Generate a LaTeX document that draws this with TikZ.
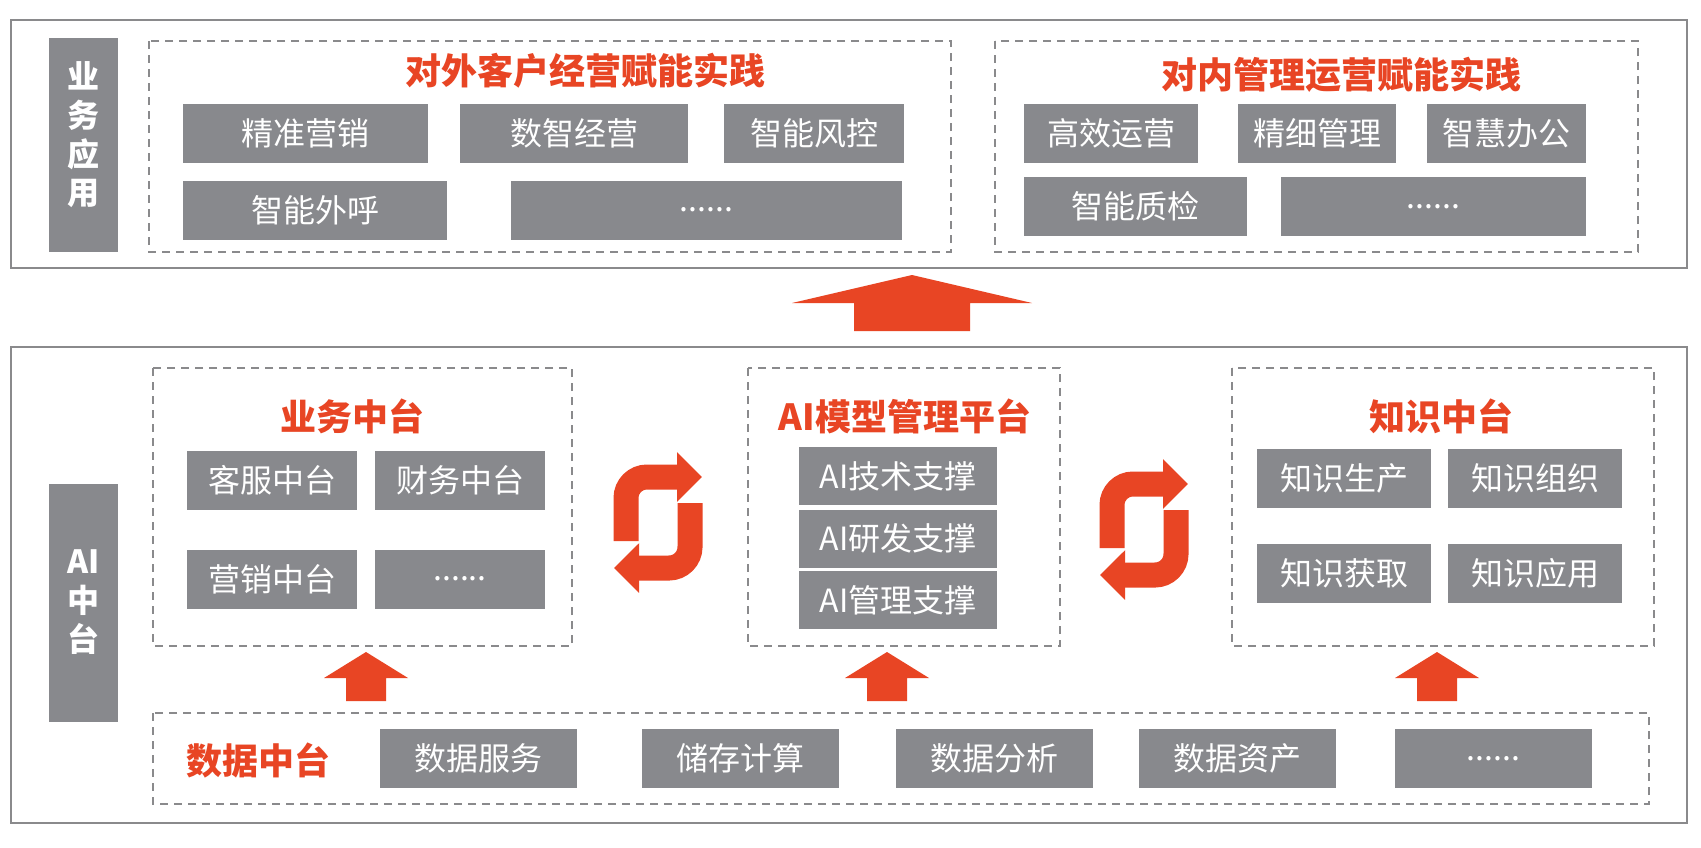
\documentclass[tikz,border=0pt]{standalone}
\usepackage{fontspec}
\setmainfont{Noto Sans CJK SC}
\usepackage{xcolor}
\usetikzlibrary{arrows.meta}

\definecolor{tilegray}{HTML}{88898D}
\definecolor{accent}{HTML}{E84524}
\definecolor{framegray}{HTML}{8A8A8C}

\tikzset{
  frame/.style={draw=framegray, line width=1.2pt},
  dashframe/.style={draw=framegray, line width=0.9pt, dash pattern=on 4pt off 3pt},
  tile/.style={fill=tilegray, text=white, font=\fontsize{16}{18}\selectfont, inner sep=0pt, minimum height=29.5pt},
  sidetag/.style={fill=tilegray, inner sep=0pt, minimum width=34.5pt},
  sidetext/.style={text=white, font=\fontsize{16}{19.3}\selectfont\bfseries, align=center, inner sep=0pt},
  heading/.style={text=accent, font=\fontsize{18}{20}\selectfont\bfseries, inner sep=0pt},
  cycarrow/.style={draw=accent, line width=12.5pt, rounded corners=10.5pt, -{Triangle[length=12.5pt, width=24pt]}},
}

\begin{document}
\begin{tikzpicture}[x=0.5pt, y=-0.5pt]
\useasboundingbox (0,0) rectangle (1701,847);
\fill[white] (0,0) rectangle (1701,847);

% Frames
\draw[frame] (11,20) rectangle (1687,268);
\draw[frame] (11,347) rectangle (1687,823);

% Side tags
\node[sidetag, minimum height=107pt] (ywyy) at (83.5,145) {};
\node[sidetext] (ywyytext) at (83.5,135) {业\\务\\应\\用};
\node[sidetag, minimum height=119pt] (aizt) at (83.5,603) {};
\node[sidetext] (aizttext) at (83.5,602) {AI\\中\\台};

% Top: external
\draw[dashframe] (149,41) rectangle (951,252);
\node[heading] (dwkh) at (585,71) {对外客户经营赋能实践};
\node[tile, minimum width=122.5pt] (jzyx) at (305.5,133.5) {精准营销};
\node[tile, minimum width=114pt] (szjy) at (574,133.5) {数智经营};
\node[tile, minimum width=90pt] (znfk) at (814,133.5) {智能风控};
\node[tile, minimum width=132pt] (znwh) at (315,210) {智能外呼};
\node[tile, minimum width=195.5pt] (wbmore) at (706.5,210) {......};

% Top: internal
\draw[dashframe] (995,41) rectangle (1638,252);
\node[heading] (dngl) at (1341.5,75) {对内管理运营赋能实践};
\node[tile, minimum width=87pt] (gxyy) at (1111,133.5) {高效运营};
\node[tile, minimum width=79pt] (jxgl) at (1317,133.5) {精细管理};
\node[tile, minimum width=79.5pt] (zhbg) at (1506.5,133.5) {智慧办公};
\node[tile, minimum width=111.5pt] (znzj) at (1135.5,206.5) {智能质检};
\node[tile, minimum width=152.5pt] (nbmore) at (1433.5,206.5) {......};

% Big arrow up
\fill[accent] (912,275) -- (1032,303) -- (970,303) -- (970,331)
  -- (854,331) -- (854,303) -- (792,303) -- cycle;

% Business platform
\draw[dashframe] (153,368) rectangle (572,646);
\node[heading] (ywzt) at (352,416) {业务中台};
\node[tile, minimum width=85pt] (kfzt) at (272,480.5) {客服中台};
\node[tile, minimum width=85pt] (cwzt) at (460,480.5) {财务中台};
\node[tile, minimum width=85pt] (yxzt) at (272,579) {营销中台};
\node[tile, minimum width=85pt] (ywmore) at (460,579) {......};

% AI model platform
\draw[dashframe] (748,368) rectangle (1060,646);
\node[heading] (aimx) at (905,416) {AI模型管理平台};
\node[tile, minimum width=99pt, minimum height=29pt] (jszc) at (898,476) {AI技术支撑};
\node[tile, minimum width=99pt, minimum height=29pt] (yfzc) at (898,538.5) {AI研发支撑};
\node[tile, minimum width=99pt, minimum height=29pt] (glzc) at (898,600) {AI管理支撑};

% Knowledge platform
\draw[dashframe] (1232,368) rectangle (1654,646);
\node[heading] (zszt) at (1441,416) {知识中台};
\node[tile, minimum width=87pt] (zssc) at (1344,478.5) {知识生产};
\node[tile, minimum width=87pt] (zszz) at (1535,478.5) {知识组织};
\node[tile, minimum width=87pt] (zshq) at (1344,573.5) {知识获取};
\node[tile, minimum width=87pt] (zsyy) at (1535,573.5) {知识应用};

% Cycle arrows
\draw[cycarrow] (626,541) |- (702,477);
\draw[cycarrow] (690,503) |- (614,568);
\draw[cycarrow] (1112,548) |- (1188,484);
\draw[cycarrow] (1176,510) |- (1100,575);

% Small arrows up
\foreach \cx in {366,887,1437}
  \fill[accent] (\cx,652) -- (\cx+42,678) -- (\cx+20,678) -- (\cx+20,701)
    -- (\cx-20,701) -- (\cx-20,678) -- (\cx-42,678) -- cycle;

% Data platform
\draw[dashframe] (153,713) rectangle (1649,804);
\node[heading] (sjzt) at (258,760) {数据中台};
\node[tile, minimum width=98.5pt] (sjfw) at (478.5,758.5) {数据服务};
\node[tile, minimum width=98.5pt] (cccs) at (740.5,758.5) {储存计算};
\node[tile, minimum width=98.5pt] (sjfx) at (994.5,758.5) {数据分析};
\node[tile, minimum width=98.5pt] (sjzc) at (1237.5,758.5) {数据资产};
\node[tile, minimum width=98.5pt] (sjmore) at (1493.5,758.5) {......};
\end{tikzpicture}
\end{document}
